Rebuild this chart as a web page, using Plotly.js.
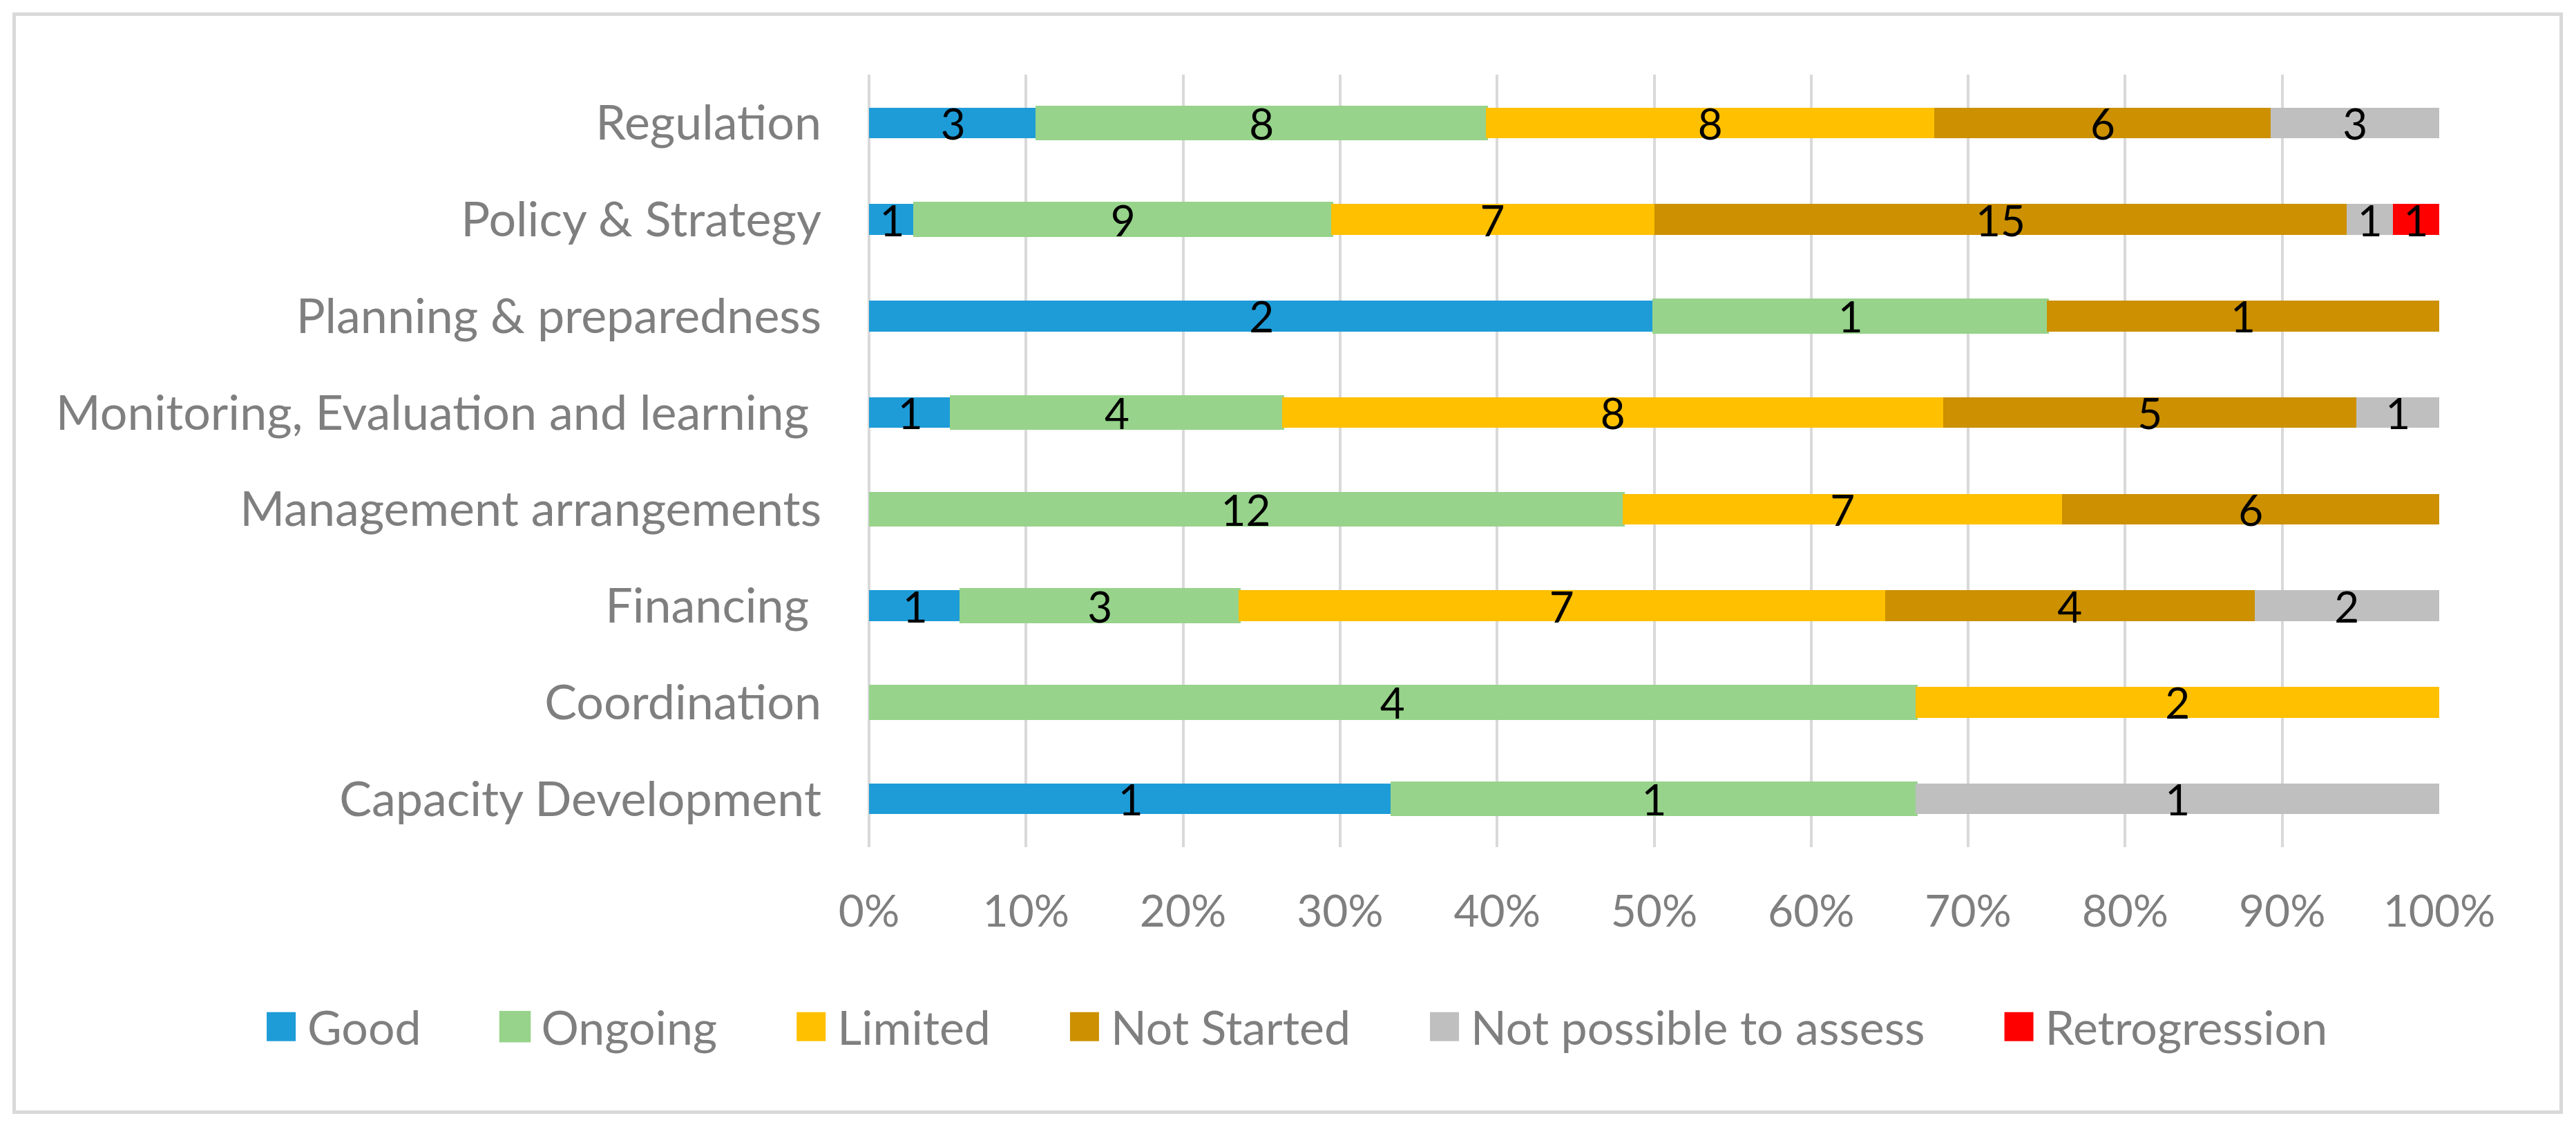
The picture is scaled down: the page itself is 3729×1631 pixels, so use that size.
<!DOCTYPE html>
<html>
<head>
<meta charset="utf-8">
<script src="https://cdn.plot.ly/plotly-3.0.1.min.js"></script>
<style>
  html, body { margin: 0; padding: 0; background: #ffffff; }
  #frame { position: absolute; left: 18px; top: 18px; width: 3682px; height: 1584px; border: 5px solid #D9D9D9; background: #fff; }
  #chart { width: 3682px; height: 1584px; }
</style>
</head>
<body>
<div id="frame"><div id="chart"></div></div>
<script>
// Categories, bottom to top as drawn
const categories = [
  "Capacity Development",
  "Coordination",
  "Financing ",
  "Management arrangements",
  "Monitoring, Evaluation and learning ",
  "Planning & preparedness",
  "Policy & Strategy",
  "Regulation"
];
// Counts per status (null = no segment)
const good          = [1, null, 1, null, 1, 2, 1, 3];
const ongoing       = [1, 4, 3, 12, 4, 1, 9, 8];
const limited       = [null, 2, 7, 7, 8, null, 7, 8];
const notStarted    = [null, null, 4, 6, 5, 1, 15, 6];
const notPossible   = [1, null, 2, null, 1, null, 1, 3];
const retrogression = [null, null, null, null, null, null, 1, null];

const seriesNames  = ["Good", "Ongoing", "Limited", "Not Started", "Not possible to assess", "Retrogression"];
const seriesValues = [good, ongoing, limited, notStarted, notPossible, retrogression];
const seriesColors = ["#1E9CD8", "#97D38B", "#FFC000", "#CC9000", "#BFBFBF", "#FF0000"];
const xTickVals = [0, 10, 20, 30, 40, 50, 60, 70, 80, 90, 100];

const FONT = "Lato, 'Open Sans', sans-serif";
const GRAY = "#7F7F7F";

const traces = seriesNames.map((name, i) => ({
  type: "bar",
  orientation: "h",
  name: name,
  y: categories,
  x: seriesValues[i],
  text: seriesValues[i].map(v => v === null ? "" : String(v)),
  textposition: "inside",
  insidetextanchor: "middle",
  constraintext: "none",
  textangle: 0,
  textfont: { family: FONT, size: 62, color: "#000000" },
  marker: {
    color: seriesColors[i],
    line: { color: seriesColors[i], width: name === "Ongoing" ? 6 : 0 }
  },
  hoverinfo: "skip"
}));

const layout = {
  width: 3682,
  height: 1584,
  margin: { l: 1235, r: 174, t: 85, b: 381, pad: 0 },
  paper_bgcolor: "#ffffff",
  plot_bgcolor: "#ffffff",
  barmode: "stack",
  barnorm: "percent",
  bargap: 0.68,
  font: { family: FONT, color: GRAY, size: 62 },
  xaxis: {
    range: [0, 100],
    tickvals: xTickVals,
    ticktext: xTickVals.map(v => v + "%"),
    showgrid: true,
    gridcolor: "#D9D9D9",
    gridwidth: 4,
    zeroline: true,
    zerolinecolor: "#D9D9D9",
    zerolinewidth: 4,
    showline: false,
    ticks: "",
    ticklabelstandoff: 50,
    tickfont: { family: FONT, size: 64, color: GRAY },
    fixedrange: true
  },
  yaxis: {
    type: "category",
    categoryorder: "array",
    categoryarray: categories,
    tickvals: categories,
    ticktext: categories.map(c => c.replace(/ $/, "\u00a0")),
    showgrid: false,
    zeroline: false,
    showline: false,
    ticks: "",
    ticklabelstandoff: 68,
    tickfont: { family: FONT, size: 70, color: GRAY },
    fixedrange: true
  },
  showlegend: true,
  legend: {
    orientation: "h",
    traceorder: "normal",
    x: -0.432,
    y: -0.2326,
    xanchor: "left",
    yanchor: "middle",
    itemwidth: 159,
    itemclick: false,
    font: { family: FONT, size: 68, color: GRAY },
    bgcolor: "rgba(0,0,0,0)"
  }
};

Plotly.newPlot("chart", traces, layout, { displayModeBar: false, staticPlot: true }).then(gd => {
  // enlarge legend swatches and place them next to their labels
  document.querySelectorAll("#chart .legend .legendpoints path").forEach(p => {
    p.setAttribute("transform", "translate(131,0) scale(3.5)");
    p.style.strokeWidth = "1px";
  });
});
</script>
</body>
</html>
